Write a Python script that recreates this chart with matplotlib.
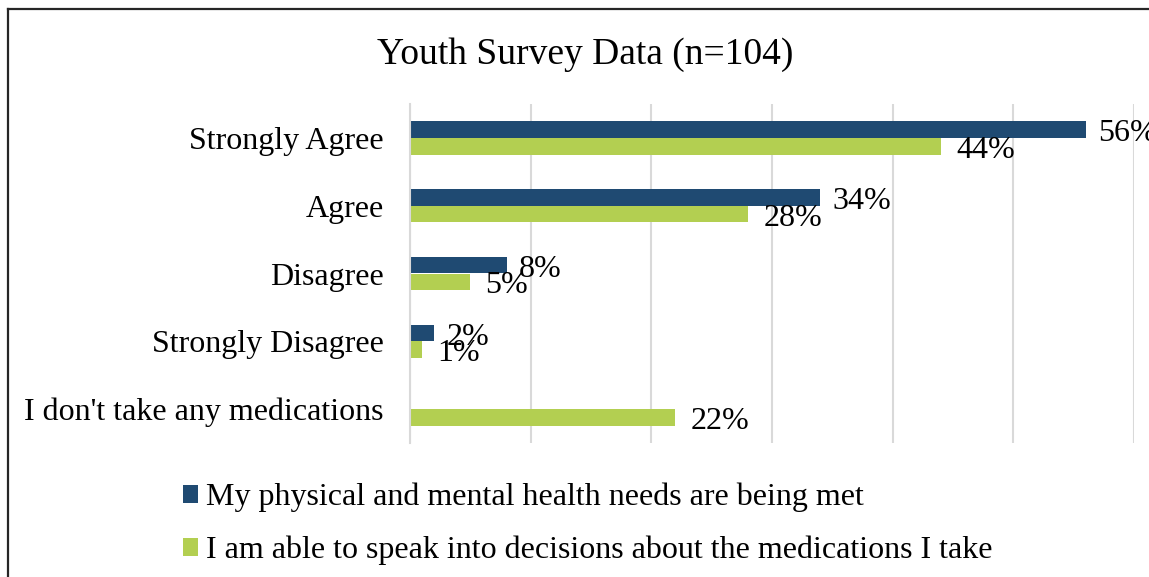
import matplotlib
matplotlib.use("Agg")
import matplotlib.pyplot as plt
from matplotlib.lines import Line2D
import numpy as np

categories = ["Strongly Agree", "Agree", "Disagree", "Strongly Disagree",
              "I don't take any medications"]
health_met = [56, 34, 8, 2, None]
speak_into = [44, 28, 5, 1, 22]
series_names = ["My physical and mental health needs are being met",
                "I am able to speak into decisions about the medications I take"]
title = "Youth Survey Data (n=104)"

dark = "#1F4A72"
green = "#B3CF51"
grid_col = "#D9D9D9"

plt.rcParams['font.family'] = ['Liberation Serif', 'DejaVu Serif']

W, H = 1149, 577
fig = plt.figure(figsize=(W / 100, H / 100), dpi=100)
ax = fig.add_axes([410 / W, 1 - 443 / H, (1134 - 410) / W, (443 - 104) / H])

y = np.arange(len(categories))
h = 0.245
dark_vals = [v if v is not None else 0 for v in health_met]
b1 = ax.barh(y - h / 2, dark_vals, height=h, color=dark, label=series_names[0])
b2 = ax.barh(y + h / 2, speak_into, height=h, color=green, label=series_names[1])

fs = 23
for yi, v in zip(y, health_met):
    if v is None:
        continue
    ax.annotate(f"{v}%", (v, yi - h / 2), xytext=(9, -3), textcoords="offset points",
                va="center", ha="left", fontsize=fs, color="black",
                annotation_clip=False)
for yi, v in zip(y, speak_into):
    ax.annotate(f"{v}%", (v, yi + h / 2), xytext=(11, -3), textcoords="offset points",
                va="center", ha="left", fontsize=fs, color="black",
                annotation_clip=False)

ax.set_xlim(0, 60)
ax.set_ylim(len(categories) - 0.5, -0.5)
ax.set_xticks(np.arange(0, 61, 10))
ax.set_xticklabels([])
ax.set_yticks(y)
ax.set_yticklabels(categories, fontsize=fs)
ax.tick_params(axis="both", length=0)
ax.tick_params(axis="y", pad=19)
ax.xaxis.grid(True, color=grid_col, linewidth=1.5)
ax.set_axisbelow(True)
for s in ["top", "right", "bottom"]:
    ax.spines[s].set_visible(False)
ax.spines["left"].set_color(grid_col)
ax.spines["left"].set_linewidth(1.5)

fig.text(585 / W, 1 - 55 / H, title, ha="center", va="center", fontsize=27)

fig.legend(handles=[b1, b2], labels=series_names, loc="upper left",
           bbox_to_anchor=(183 / W, 1 - 483 / H), frameon=False, fontsize=fs,
           handlelength=0.47, handleheight=0.47, handletextpad=0.25,
           labelspacing=0.73, borderpad=0, borderaxespad=0)

# chart frame (cropped on the right and bottom)
fig.add_artist(Line2D([8 / W, 8 / W], [0, 1 - 9 / H], color="#262626", lw=1.6))
fig.add_artist(Line2D([8 / W, 1], [1 - 9 / H, 1 - 9 / H], color="#262626", lw=1.6))

fig.savefig("out.png", dpi=100)
